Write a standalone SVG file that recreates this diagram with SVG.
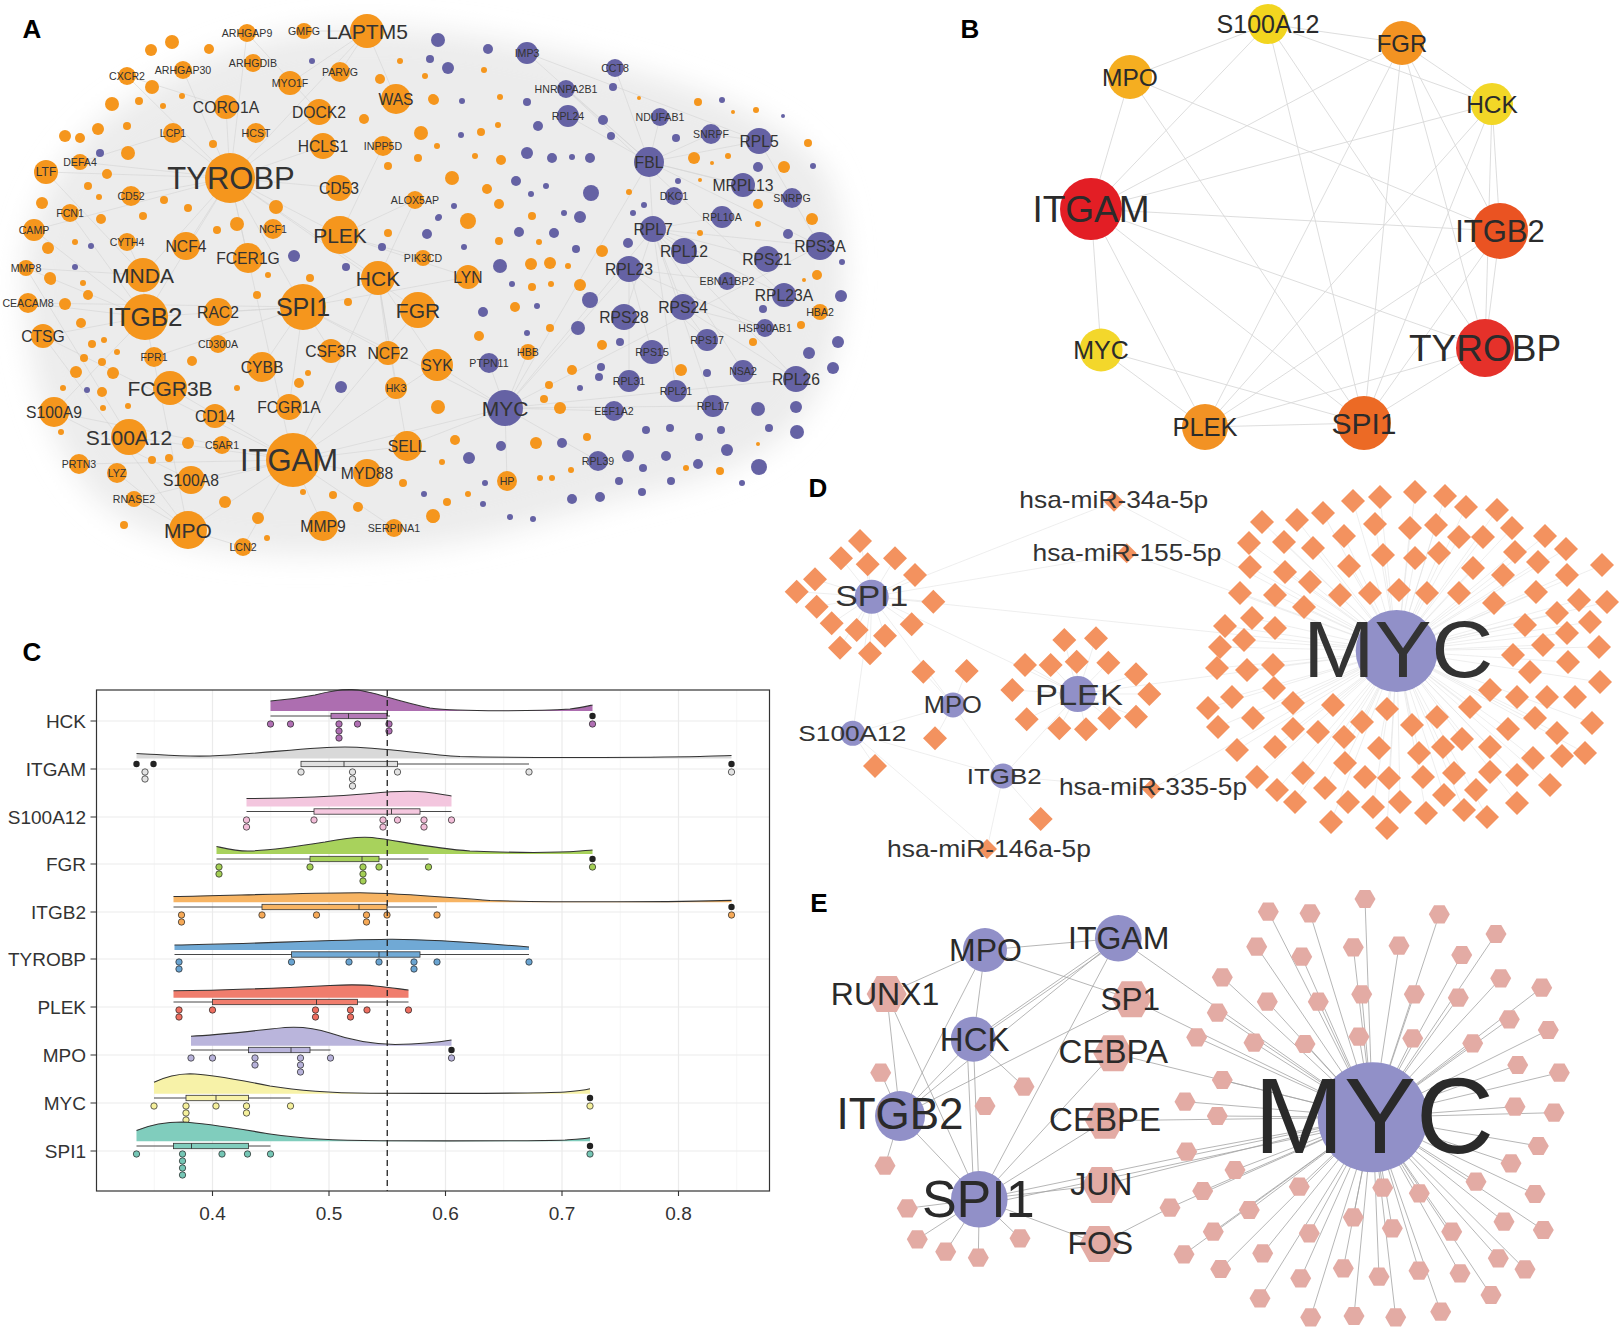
<svg xmlns="http://www.w3.org/2000/svg" xmlns:xlink="http://www.w3.org/1999/xlink" width="1624" height="1332" viewBox="0 0 1624 1332">
<style>
text{font-family:"Liberation Sans",Arial,sans-serif}
.pl{font-size:26px;font-weight:bold;fill:#000;text-anchor:middle}
.ta{fill:#333;text-anchor:middle;dominant-baseline:central}
.s{font-size:10.6px}.m{font-size:15.7px}.l{font-size:21px}
.o{fill:#f5961d}.p{fill:#6562a4}
.tb{fill:#2b2b2b;text-anchor:middle;dominant-baseline:central}
.td{fill:#333;text-anchor:middle}
.tds{fill:#333;text-anchor:start;font-size:24px}
.te{fill:#2a2a2a;text-anchor:middle}
.aed{stroke:#d3d3d3;stroke-width:0.6;fill:none}
.bed{stroke:#d9d9d9;stroke-width:0.9;fill:none}
.ded{stroke:#e2e2e2;stroke-width:0.6;fill:none}
.eed{stroke:#a3a3a3;stroke-width:0.8;fill:none}
.grid{stroke:#ebebeb;stroke-width:1.2}
.gmin{stroke:#f4f4f4;stroke-width:0.8}
.top{fill:none;stroke:#333;stroke-width:1.1}
.bx{stroke:#333;stroke-width:0.8}
.wk{stroke:#333;stroke-width:0.9}
.pt{stroke:#222;stroke-width:0.7}
.ol{fill:#222}
.ytl{font-size:19px;fill:#333;text-anchor:end}
.xtl{font-size:19px;fill:#333;text-anchor:middle}
.nd{fill:#9190c8}
</style>
<defs>
<filter id="soft" x="-10%" y="-10%" width="120%" height="120%"><feGaussianBlur stdDeviation="14"/></filter>
<path id="dm" d="M0-12L12 0L0 12L-12 0Z" fill="#f3925f"/>
<path id="dms" d="M0-10L10 0L0 10L-10 0Z" fill="#f3925f"/>
<path id="hx" d="M10.5 0L5.25 9.1L-5.25 9.1L-10.5 0L-5.25-9.1L5.25-9.1Z" fill="#e3aba4"/>
<path id="hxL" d="M20 0L10 18L-10 18L-20 0L-10-18L10-18Z" fill="#e3aba4"/>
</defs>
<rect width="1624" height="1332" fill="#fff"/>

<!-- ================= PANEL A ================= -->
<g id="panelA">
<path filter="url(#soft)" d="M25 300C15 220 65 140 130 100C190 60 260 32 340 28C430 24 520 42 600 62C700 86 780 115 825 170C855 230 848 330 822 385C795 445 735 475 640 495C560 515 500 540 400 550C300 558 190 558 125 520C65 485 30 400 25 300Z" fill="#ececec"/>
<g id="a-edges">
<path class="aed" d="M230 178L46 172M230 178L80 162M230 178L127 76M230 178L183 70M230 178L247 33M230 178L367 31M230 178L323 146M230 178L339 188M230 178L143 275M230 178L145 317M230 178L303 307M230 178L293 460M230 178L340 235M230 178L378 278M230 178L418 310M230 178L186 246M230 178L34 230M230 178L248 258M230 178L131 196M230 178L173 133M230 178L226 107M230 178L319 112M293 460L129 437M293 460L188 530M293 460L323 526M293 460L394 528M293 460L407 446M293 460L367 473M293 460L243 547M293 460L191 480M293 460L54 412M293 460L505 408M293 460L415 200M293 460L170 388M293 460L79 464M293 460L43 336M293 460L418 310M293 460L437 365M293 460L134 499M303 307L145 317M303 307L218 312M303 307L262 367M303 307L331 351M303 307L388 353M303 307L289 407M303 307L378 278M303 307L505 408M303 307L468 277M303 307L28 303M303 307L154 357M145 317L26 268M145 317L28 303M145 317L43 336M145 317L54 412M145 317L143 275M145 317L70 213M145 317L188 530M505 408L649 162M505 408L629 269M505 408L598 461M505 408L507 481M505 408L614 411M505 408L489 363M505 408L528 352M505 408L653 229M505 408L437 365M505 408L407 446M505 408L820 246M649 162L566 89M649 162L615 68M649 162L527 53M649 162L711 134M649 162L759 141M649 162L743 185M649 162L653 229M649 162L568 116M649 162L660 117M649 162L792 198M653 229L684 251M653 229L767 259M653 229L820 246M653 229L722 217M653 229L624 317M653 229L683 307M653 229L796 379M653 229L713 406M653 229L676 391M653 229L743 371M653 229L784 295M629 269L652 352M629 269L629 381M629 269L707 340M629 269L765 328M629 269L727 281M367 31L304 31M367 31L396 99M367 31L290 83M367 31L340 72M340 235L383 146M340 235L423 258M340 235L415 200M340 235L468 277M378 278L407 446M378 278L437 365M378 278L388 353M378 278L396 388M143 275L26 268M143 275L127 242M188 530L243 547M188 530L134 499M188 530L117 473M683 307L796 379M683 307L765 328M683 307L707 340M759 141L820 246M759 141L711 134M46 172L143 275M34 230L145 317M26 268L129 437M43 336L188 530M54 412L191 480M80 162L173 133M127 76L226 107M247 33L319 112M505 408L796 379M505 408L713 406M649 162L820 246M527 53L759 141M566 89L784 295"/>
</g>
<g id="a-minor-orange" class="o">
<circle cx="172" cy="42" r="7"/><circle cx="151" cy="50" r="6"/><circle cx="209" cy="49" r="5"/><circle cx="400" cy="61" r="3"/><circle cx="380" cy="79" r="5"/><circle cx="425" cy="76" r="3"/><circle cx="433" cy="99" r="5"/><circle cx="152" cy="87" r="7"/><circle cx="182" cy="96" r="3"/><circle cx="139" cy="101" r="4"/><circle cx="163" cy="106" r="3"/><circle cx="112" cy="104" r="7"/><circle cx="127" cy="126" r="4"/><circle cx="98" cy="129" r="6"/><circle cx="65" cy="136" r="6"/><circle cx="80" cy="138" r="5"/><circle cx="128" cy="153" r="7"/><circle cx="213" cy="144" r="4"/><circle cx="107" cy="174" r="5"/><circle cx="88" cy="186" r="4"/><circle cx="99" cy="197" r="3"/><circle cx="164" cy="200" r="4"/><circle cx="188" cy="208" r="4"/><circle cx="42" cy="203" r="6"/><circle cx="101" cy="219" r="5"/><circle cx="143" cy="216" r="4"/><circle cx="276" cy="207" r="7"/><circle cx="237" cy="224" r="7"/><circle cx="217" cy="230" r="4"/><circle cx="388" cy="166" r="4"/><circle cx="418" cy="158" r="4"/><circle cx="437" cy="146" r="3"/><circle cx="421" cy="133" r="7"/><circle cx="364" cy="119" r="5"/><circle cx="388" cy="233" r="4"/><circle cx="75" cy="242" r="3"/><circle cx="48" cy="248" r="6"/><circle cx="50" cy="278" r="6"/><circle cx="83" cy="283" r="3"/><circle cx="88" cy="295" r="5"/><circle cx="268" cy="275" r="3"/><circle cx="310" cy="278" r="4"/><circle cx="257" cy="295" r="4"/>
<circle cx="51" cy="280" r="5"/><circle cx="65" cy="304" r="6"/><circle cx="81" cy="323" r="5"/><circle cx="92" cy="344" r="4"/><circle cx="104" cy="340" r="3"/><circle cx="117" cy="352" r="3"/><circle cx="84" cy="358" r="4"/><circle cx="102" cy="362" r="4"/><circle cx="113" cy="373" r="6"/><circle cx="76" cy="372" r="6"/><circle cx="102" cy="392" r="5"/><circle cx="63" cy="388" r="3"/><circle cx="128" cy="406" r="3"/><circle cx="103" cy="408" r="3"/><circle cx="61" cy="432" r="3"/><circle cx="192" cy="361" r="5"/><circle cx="348" cy="302" r="4"/><circle cx="237" cy="388" r="3"/><circle cx="308" cy="373" r="3"/><circle cx="299" cy="383" r="5"/><circle cx="188" cy="443" r="6"/><circle cx="152" cy="460" r="4"/><circle cx="169" cy="458" r="4"/><circle cx="124" cy="525" r="4"/><circle cx="225" cy="502" r="6"/><circle cx="258" cy="518" r="6"/><circle cx="267" cy="538" r="3"/><circle cx="303" cy="492" r="3"/><circle cx="333" cy="495" r="4"/><circle cx="358" cy="507" r="5"/><circle cx="403" cy="483" r="4"/><circle cx="433" cy="517" r="6"/>
<circle cx="484" cy="70" r="3"/><circle cx="434" cy="100" r="5"/><circle cx="500" cy="97" r="3"/><circle cx="639" cy="98" r="2"/><circle cx="698" cy="102" r="4"/><circle cx="733" cy="112" r="2"/><circle cx="756" cy="110" r="3"/><circle cx="498" cy="125" r="3"/><circle cx="481" cy="132" r="4"/><circle cx="475" cy="156" r="3"/><circle cx="501" cy="160" r="5"/><circle cx="452" cy="178" r="7"/><circle cx="487" cy="189" r="5"/><circle cx="499" cy="204" r="5"/><circle cx="629" cy="192" r="3"/><circle cx="694" cy="158" r="6"/><circle cx="712" cy="163" r="2"/><circle cx="728" cy="156" r="3"/><circle cx="700" cy="180" r="2"/><circle cx="784" cy="167" r="6"/><circle cx="808" cy="143" r="4"/><circle cx="758" cy="204" r="5"/><circle cx="758" cy="224" r="3"/><circle cx="812" cy="219" r="6"/><circle cx="700" cy="233" r="3"/><circle cx="468" cy="221" r="8"/><circle cx="532" cy="216" r="4"/><circle cx="499" cy="241" r="4"/><circle cx="539" cy="242" r="3"/><circle cx="602" cy="251" r="6"/><circle cx="531" cy="264" r="6"/><circle cx="550" cy="263" r="6"/><circle cx="568" cy="266" r="3"/><circle cx="532" cy="287" r="4"/><circle cx="551" cy="284" r="3"/><circle cx="580" cy="285" r="6"/><circle cx="817" cy="275" r="5"/><circle cx="804" cy="280" r="2"/>
<circle cx="515" cy="307" r="5"/><circle cx="479" cy="336" r="5"/><circle cx="550" cy="328" r="4"/><circle cx="602" cy="345" r="5"/><circle cx="753" cy="342" r="4"/><circle cx="801" cy="325" r="4"/><circle cx="572" cy="370" r="5"/><circle cx="549" cy="385" r="4"/><circle cx="544" cy="399" r="4"/><circle cx="681" cy="370" r="6"/><circle cx="438" cy="407" r="7"/><circle cx="560" cy="408" r="6"/><circle cx="536" cy="443" r="6"/><circle cx="455" cy="440" r="5"/><circle cx="587" cy="437" r="4"/><circle cx="442" cy="462" r="3"/><circle cx="571" cy="470" r="3"/><circle cx="686" cy="468" r="3"/><circle cx="720" cy="471" r="4"/><circle cx="758" cy="444" r="2"/><circle cx="540" cy="478" r="3"/><circle cx="552" cy="478" r="3"/><circle cx="468" cy="494" r="3"/><circle cx="447" cy="502" r="4"/><circle cx="433" cy="516" r="7"/>
</g>
<g id="a-minor-purple" class="p">
<circle cx="312" cy="61" r="3"/><circle cx="430" cy="59" r="4"/><circle cx="100" cy="153" r="4"/><circle cx="91" cy="246" r="3"/><circle cx="75" cy="267" r="3"/><circle cx="294" cy="256" r="6"/><circle cx="346" cy="267" r="4"/><circle cx="382" cy="247" r="4"/><circle cx="427" cy="234" r="5"/><circle cx="438" cy="218" r="3"/><circle cx="87" cy="390" r="3"/><circle cx="424" cy="494" r="3"/><circle cx="341" cy="387" r="6"/>
<circle cx="438" cy="40" r="7"/><circle cx="488" cy="49" r="5"/><circle cx="448" cy="68" r="6"/><circle cx="613" cy="87" r="4"/><circle cx="462" cy="101" r="3"/><circle cx="527" cy="102" r="4"/><circle cx="603" cy="120" r="5"/><circle cx="538" cy="126" r="5"/><circle cx="461" cy="135" r="3"/><circle cx="611" cy="136" r="4"/><circle cx="676" cy="138" r="4"/><circle cx="527" cy="153" r="6"/><circle cx="552" cy="158" r="5"/><circle cx="572" cy="157" r="3"/><circle cx="590" cy="158" r="5"/><circle cx="722" cy="100" r="3"/><circle cx="783" cy="116" r="2"/><circle cx="758" cy="167" r="5"/><circle cx="813" cy="166" r="3"/><circle cx="678" cy="181" r="3"/><circle cx="516" cy="181" r="5"/><circle cx="591" cy="193" r="8"/><circle cx="531" cy="194" r="3"/><circle cx="546" cy="186" r="3"/><circle cx="454" cy="206" r="3"/><circle cx="439" cy="217" r="3"/><circle cx="564" cy="213" r="3"/><circle cx="580" cy="217" r="6"/><circle cx="633" cy="213" r="3"/><circle cx="644" cy="205" r="3"/><circle cx="519" cy="232" r="5"/><circle cx="554" cy="233" r="5"/><circle cx="464" cy="247" r="3"/><circle cx="628" cy="243" r="5"/><circle cx="788" cy="234" r="5"/><circle cx="842" cy="262" r="3"/><circle cx="576" cy="249" r="4"/><circle cx="500" cy="266" r="7"/><circle cx="512" cy="284" r="3"/><circle cx="841" cy="296" r="6"/>
<circle cx="590" cy="300" r="8"/><circle cx="483" cy="312" r="5"/><circle cx="537" cy="306" r="3"/><circle cx="578" cy="328" r="7"/><circle cx="527" cy="333" r="3"/><circle cx="620" cy="342" r="4"/><circle cx="763" cy="309" r="4"/><circle cx="838" cy="342" r="6"/><circle cx="809" cy="353" r="6"/><circle cx="833" cy="368" r="6"/><circle cx="601" cy="367" r="4"/><circle cx="599" cy="377" r="4"/><circle cx="580" cy="388" r="3"/><circle cx="707" cy="373" r="4"/><circle cx="758" cy="409" r="7"/><circle cx="796" cy="407" r="6"/><circle cx="769" cy="428" r="4"/><circle cx="797" cy="432" r="7"/><circle cx="646" cy="430" r="4"/><circle cx="670" cy="428" r="4"/><circle cx="699" cy="437" r="4"/><circle cx="721" cy="430" r="4"/><circle cx="727" cy="450" r="6"/><circle cx="501" cy="446" r="5"/><circle cx="562" cy="443" r="5"/><circle cx="469" cy="458" r="6"/><circle cx="628" cy="456" r="6"/><circle cx="643" cy="468" r="4"/><circle cx="666" cy="456" r="5"/><circle cx="698" cy="464" r="5"/><circle cx="759" cy="467" r="8"/><circle cx="619" cy="481" r="4"/><circle cx="671" cy="481" r="4"/><circle cx="742" cy="483" r="3"/><circle cx="572" cy="499" r="5"/><circle cx="600" cy="497" r="5"/><circle cx="642" cy="492" r="4"/><circle cx="485" cy="483" r="3"/><circle cx="483" cy="504" r="3"/><circle cx="510" cy="517" r="3"/><circle cx="533" cy="519" r="3"/>
</g>
<g id="a-nodes">
<g id="a-ARHGAP9"><circle class="o" cx="247" cy="33" r="9"/><text class="ta s" x="247" y="33">ARHGAP9</text></g>
<g id="a-GMFG"><circle class="o" cx="304" cy="31" r="8"/><text class="ta s" x="304" y="31">GMFG</text></g>
<g id="a-LAPTM5"><circle class="o" cx="367" cy="31" r="17"/><text class="ta l" x="367" y="31">LAPTM5</text></g>
<g id="a-CXCR2"><circle class="o" cx="127" cy="76" r="9"/><text class="ta s" x="127" y="76">CXCR2</text></g>
<g id="a-ARHGAP30"><circle class="o" cx="183" cy="70" r="9"/><text class="ta s" x="183" y="70">ARHGAP30</text></g>
<g id="a-ARHGDIB"><circle class="o" cx="253" cy="63" r="9"/><text class="ta s" x="253" y="63">ARHGDIB</text></g>
<g id="a-MYO1F"><circle class="o" cx="290" cy="83" r="12"/><text class="ta s" x="290" y="83">MYO1F</text></g>
<g id="a-PARVG"><circle class="o" cx="340" cy="72" r="10"/><text class="ta s" x="340" y="72">PARVG</text></g>
<g id="a-WAS"><circle class="o" cx="396" cy="99" r="15"/><text class="ta m" x="396" y="99">WAS</text></g>
<g id="a-CORO1A"><circle class="o" cx="226" cy="107" r="12"/><text class="ta m" x="226" y="107">CORO1A</text></g>
<g id="a-DOCK2"><circle class="o" cx="319" cy="112" r="13"/><text class="ta m" x="319" y="112">DOCK2</text></g>
<g id="a-LCP1"><circle class="o" cx="173" cy="133" r="10"/><text class="ta s" x="173" y="133">LCP1</text></g>
<g id="a-HCST"><circle class="o" cx="256" cy="133" r="10"/><text class="ta s" x="256" y="133">HCST</text></g>
<g id="a-HCLS1"><circle class="o" cx="323" cy="146" r="13"/><text class="ta m" x="323" y="146">HCLS1</text></g>
<g id="a-INPP5D"><circle class="o" cx="383" cy="146" r="10"/><text class="ta s" x="383" y="146">INPP5D</text></g>
<g id="a-TYROBP"><circle class="o" cx="230" cy="178" r="25"/><text class="ta" font-size="31" x="231" y="178">TYROBP</text></g>
<g id="a-CD53"><circle class="o" cx="339" cy="188" r="13"/><text class="ta m" x="339" y="188">CD53</text></g>
<g id="a-DEFA4"><circle class="o" cx="80" cy="162" r="8"/><text class="ta s" x="80" y="162">DEFA4</text></g>
<g id="a-LTF"><circle class="o" cx="46" cy="172" r="12"/><text class="ta" font-size="12" x="46" y="172">LTF</text></g>
<g id="a-CD52"><circle class="o" cx="131" cy="196" r="10"/><text class="ta s" x="131" y="196">CD52</text></g>
<g id="a-FCN1"><circle class="o" cx="70" cy="213" r="9"/><text class="ta s" x="70" y="213">FCN1</text></g>
<g id="a-CAMP"><circle class="o" cx="34" cy="230" r="11"/><text class="ta s" x="34" y="230">CAMP</text></g>
<g id="a-ALOX5AP"><circle class="o" cx="415" cy="200" r="9"/><text class="ta s" x="415" y="200">ALOX5AP</text></g>
<g id="a-PLEK"><circle class="o" cx="340" cy="235" r="19"/><text class="ta l" x="340" y="235">PLEK</text></g>
<g id="a-NCF1"><circle class="o" cx="273" cy="229" r="10"/><text class="ta s" x="273" y="229">NCF1</text></g>
<g id="a-NCF4"><circle class="o" cx="186" cy="246" r="14"/><text class="ta m" x="186" y="246">NCF4</text></g>
<g id="a-CYTH4"><circle class="o" cx="127" cy="242" r="9"/><text class="ta s" x="127" y="242">CYTH4</text></g>
<g id="a-FCER1G"><circle class="o" cx="248" cy="258" r="15"/><text class="ta m" x="248" y="258">FCER1G</text></g>
<g id="a-MNDA"><circle class="o" cx="143" cy="275" r="17"/><text class="ta l" x="143" y="275">MNDA</text></g>
<g id="a-HCK"><circle class="o" cx="378" cy="278" r="17"/><text class="ta l" x="378" y="278">HCK</text></g>
<g id="a-MMP8"><circle class="o" cx="26" cy="268" r="8"/><text class="ta s" x="26" y="268">MMP8</text></g>
<g id="a-PIK3CD"><circle class="o" cx="423" cy="258" r="8"/><text class="ta s" x="423" y="258">PIK3CD</text></g>
<g id="a-CEACAM8"><circle class="o" cx="28" cy="303" r="10"/><text class="ta s" x="28" y="303">CEACAM8</text></g>
<g id="a-ITGB2"><circle class="o" cx="145" cy="317" r="23"/><text class="ta" font-size="26" x="145" y="317">ITGB2</text></g>
<g id="a-RAC2"><circle class="o" cx="218" cy="312" r="14"/><text class="ta m" x="218" y="312">RAC2</text></g>
<g id="a-SPI1"><circle class="o" cx="303" cy="307" r="23"/><text class="ta" font-size="25" x="303" y="307">SPI1</text></g>
<g id="a-FGR"><circle class="o" cx="418" cy="310" r="18"/><text class="ta l" x="418" y="310">FGR</text></g>
<g id="a-CTSG"><circle class="o" cx="43" cy="336" r="12"/><text class="ta m" x="43" y="336">CTSG</text></g>
<g id="a-CD300A"><circle class="o" cx="218" cy="344" r="9"/><text class="ta s" x="218" y="344">CD300A</text></g>
<g id="a-FPR1"><circle class="o" cx="154" cy="357" r="10"/><text class="ta s" x="154" y="357">FPR1</text></g>
<g id="a-CYBB"><circle class="o" cx="262" cy="367" r="15"/><text class="ta m" x="262" y="367">CYBB</text></g>
<g id="a-CSF3R"><circle class="o" cx="331" cy="351" r="12"/><text class="ta m" x="331" y="351">CSF3R</text></g>
<g id="a-NCF2"><circle class="o" cx="388" cy="353" r="12"/><text class="ta m" x="388" y="353">NCF2</text></g>
<g id="a-SYK"><circle class="o" cx="437" cy="365" r="16"/><text class="ta m" x="437" y="365">SYK</text></g>
<g id="a-FCGR3B"><circle class="o" cx="170" cy="388" r="17"/><text class="ta l" x="170" y="388">FCGR3B</text></g>
<g id="a-HK3"><circle class="o" cx="396" cy="388" r="11"/><text class="ta s" x="396" y="388">HK3</text></g>
<g id="a-S100A9"><circle class="o" cx="54" cy="412" r="15"/><text class="ta m" x="54" y="412">S100A9</text></g>
<g id="a-CD14"><circle class="o" cx="215" cy="416" r="12"/><text class="ta m" x="215" y="416">CD14</text></g>
<g id="a-FCGR1A"><circle class="o" cx="289" cy="407" r="13"/><text class="ta m" x="289" y="407">FCGR1A</text></g>
<g id="a-S100A12"><circle class="o" cx="129" cy="437" r="18"/><text class="ta l" x="129" y="437">S100A12</text></g>
<g id="a-C5AR1"><circle class="o" cx="222" cy="445" r="9"/><text class="ta s" x="222" y="445">C5AR1</text></g>
<g id="a-ITGAM"><circle class="o" cx="293" cy="460" r="27"/><text class="ta" font-size="31" x="289" y="460">ITGAM</text></g>
<g id="a-SELL"><circle class="o" cx="407" cy="446" r="15"/><text class="ta m" x="407" y="446">SELL</text></g>
<g id="a-PRTN3"><circle class="o" cx="79" cy="464" r="10"/><text class="ta s" x="79" y="464">PRTN3</text></g>
<g id="a-LYZ"><circle class="o" cx="117" cy="473" r="10"/><text class="ta s" x="117" y="473">LYZ</text></g>
<g id="a-S100A8"><circle class="o" cx="191" cy="480" r="14"/><text class="ta m" x="191" y="480">S100A8</text></g>
<g id="a-MYD88"><circle class="o" cx="367" cy="473" r="14"/><text class="ta m" x="367" y="473">MYD88</text></g>
<g id="a-RNASE2"><circle class="o" cx="134" cy="499" r="8"/><text class="ta s" x="134" y="499">RNASE2</text></g>
<g id="a-MPO"><circle class="o" cx="188" cy="530" r="19"/><text class="ta l" x="188" y="530">MPO</text></g>
<g id="a-MMP9"><circle class="o" cx="323" cy="526" r="15"/><text class="ta m" x="323" y="526">MMP9</text></g>
<g id="a-SERPINA1"><circle class="o" cx="394" cy="528" r="9"/><text class="ta s" x="394" y="528">SERPINA1</text></g>
<g id="a-LCN2"><circle class="o" cx="243" cy="547" r="9"/><text class="ta s" x="243" y="547">LCN2</text></g>
<g id="a-LYN"><circle class="o" cx="468" cy="277" r="12"/><text class="ta m" x="468" y="277">LYN</text></g>
<g id="a-HBA2"><circle class="o" cx="820" cy="312" r="8"/><text class="ta s" x="820" y="312">HBA2</text></g>
<g id="a-HBB"><circle class="o" cx="528" cy="352" r="8"/><text class="ta s" x="528" y="352">HBB</text></g>
<g id="a-HP"><circle class="o" cx="507" cy="481" r="10"/><text class="ta s" x="507" y="481">HP</text></g>
<g id="a-IMP3"><circle class="p" cx="527" cy="53" r="11"/><text class="ta s" x="527" y="53">IMP3</text></g>
<g id="a-CCT8"><circle class="p" cx="615" cy="68" r="9"/><text class="ta s" x="615" y="68">CCT8</text></g>
<g id="a-HNRNPA2B1"><circle class="p" cx="566" cy="89" r="9"/><text class="ta s" x="566" y="89">HNRNPA2B1</text></g>
<g id="a-RPL24"><circle class="p" cx="568" cy="116" r="11"/><text class="ta s" x="568" y="116">RPL24</text></g>
<g id="a-NDUFAB1"><circle class="p" cx="660" cy="117" r="9"/><text class="ta s" x="660" y="117">NDUFAB1</text></g>
<g id="a-SNRPF"><circle class="p" cx="711" cy="134" r="10"/><text class="ta s" x="711" y="134">SNRPF</text></g>
<g id="a-RPL5"><circle class="p" cx="759" cy="141" r="13"/><text class="ta m" x="759" y="141">RPL5</text></g>
<g id="a-FBL"><circle class="p" cx="649" cy="162" r="15"/><text class="ta m" x="649" y="162">FBL</text></g>
<g id="a-MRPL13"><circle class="p" cx="743" cy="185" r="12"/><text class="ta m" x="743" y="185">MRPL13</text></g>
<g id="a-DKC1"><circle class="p" cx="674" cy="196" r="9"/><text class="ta s" x="674" y="196">DKC1</text></g>
<g id="a-SNRPG"><circle class="p" cx="792" cy="198" r="10"/><text class="ta s" x="792" y="198">SNRPG</text></g>
<g id="a-RPL10A"><circle class="p" cx="722" cy="217" r="11"/><text class="ta s" x="722" y="217">RPL10A</text></g>
<g id="a-RPL7"><circle class="p" cx="653" cy="229" r="13"/><text class="ta m" x="653" y="229">RPL7</text></g>
<g id="a-RPL12"><circle class="p" cx="684" cy="251" r="13"/><text class="ta m" x="684" y="251">RPL12</text></g>
<g id="a-RPS3A"><circle class="p" cx="820" cy="246" r="14"/><text class="ta m" x="820" y="246">RPS3A</text></g>
<g id="a-RPS21"><circle class="p" cx="767" cy="259" r="13"/><text class="ta m" x="767" y="259">RPS21</text></g>
<g id="a-RPL23"><circle class="p" cx="629" cy="269" r="13"/><text class="ta m" x="629" y="269">RPL23</text></g>
<g id="a-EBNA1BP2"><circle class="p" cx="727" cy="281" r="9"/><text class="ta s" x="727" y="281">EBNA1BP2</text></g>
<g id="a-RPL23A"><circle class="p" cx="784" cy="295" r="12"/><text class="ta m" x="784" y="295">RPL23A</text></g>
<g id="a-RPS24"><circle class="p" cx="683" cy="307" r="13"/><text class="ta m" x="683" y="307">RPS24</text></g>
<g id="a-RPS28"><circle class="p" cx="624" cy="317" r="13"/><text class="ta m" x="624" y="317">RPS28</text></g>
<g id="a-HSP90AB1"><circle class="p" cx="765" cy="328" r="9"/><text class="ta s" x="765" y="328">HSP90AB1</text></g>
<g id="a-RPS17"><circle class="p" cx="707" cy="340" r="11"/><text class="ta s" x="707" y="340">RPS17</text></g>
<g id="a-RPS15"><circle class="p" cx="652" cy="352" r="12"/><text class="ta s" x="652" y="352">RPS15</text></g>
<g id="a-PTPN11"><circle class="p" cx="489" cy="363" r="10"/><text class="ta s" x="489" y="363">PTPN11</text></g>
<g id="a-RPL31"><circle class="p" cx="629" cy="381" r="11"/><text class="ta s" x="629" y="381">RPL31</text></g>
<g id="a-RPL21"><circle class="p" cx="676" cy="391" r="11"/><text class="ta s" x="676" y="391">RPL21</text></g>
<g id="a-NSA2"><circle class="p" cx="743" cy="371" r="11"/><text class="ta s" x="743" y="371">NSA2</text></g>
<g id="a-RPL26"><circle class="p" cx="796" cy="379" r="13"/><text class="ta m" x="796" y="379">RPL26</text></g>
<g id="a-MYC"><circle class="p" cx="505" cy="408" r="18"/><text class="ta l" x="505" y="408">MYC</text></g>
<g id="a-EEF1A2"><circle class="p" cx="614" cy="411" r="10"/><text class="ta s" x="614" y="411">EEF1A2</text></g>
<g id="a-RPL17"><circle class="p" cx="713" cy="406" r="11"/><text class="ta s" x="713" y="406">RPL17</text></g>
<g id="a-RPL39"><circle class="p" cx="598" cy="461" r="10"/><text class="ta s" x="598" y="461">RPL39</text></g>
</g>
<text class="pl" x="32" y="38">A</text>
</g>

<!-- ================= PANEL B ================= -->
<g id="panelB">
<g id="b-edges">
<path class="bed" d="M1268 24L1130 77M1268 24L1402 43M1268 24L1091 209M1268 24L1364 423M1268 24L1485 348M1268 24L1492 104M1402 43L1091 209M1402 43L1492 104M1402 43L1500 231M1402 43L1485 348M1402 43L1364 423M1402 43L1205 427M1130 77L1091 209M1130 77L1500 231M1130 77L1364 423M1492 104L1091 209M1492 104L1500 231M1492 104L1364 423M1492 104L1205 427M1492 104L1485 348M1091 209L1500 231M1091 209L1101 350M1091 209L1205 427M1091 209L1364 423M1091 209L1485 348M1500 231L1485 348M1500 231L1364 423M1500 231L1205 427M1101 350L1364 423M1101 350L1205 427M1485 348L1364 423M1485 348L1205 427M1205 427L1364 423"/>
</g>
<g id="b-S100A12"><circle cx="1268" cy="24" r="20" fill="#f2d51f"/><text class="tb" font-size="25" x="1268" y="24">S100A12</text></g>
<g id="b-FGR"><circle cx="1402" cy="43" r="22" fill="#f39322"/><text class="tb" font-size="24" x="1402" y="43">FGR</text></g>
<g id="b-MPO"><circle cx="1130" cy="77" r="22" fill="#f5ae20"/><text class="tb" font-size="24.5" x="1130" y="77">MPO</text></g>
<g id="b-HCK"><circle cx="1492" cy="104" r="21" fill="#f2d727"/><text class="tb" font-size="24.5" x="1492" y="104">HCK</text></g>
<g id="b-ITGAM"><circle cx="1091" cy="209" r="31" fill="#e31e25"/><text class="tb" font-size="37" x="1091" y="209">ITGAM</text></g>
<g id="b-ITGB2"><circle cx="1500" cy="231" r="28" fill="#ea5322"/><text class="tb" font-size="31" x="1500" y="231">ITGB2</text></g>
<g id="b-MYC"><circle cx="1101" cy="350" r="21.5" fill="#f3d72b"/><text class="tb" font-size="25" x="1101" y="350">MYC</text></g>
<g id="b-TYROBP"><circle cx="1485" cy="348" r="29" fill="#e5312a"/><text class="tb" font-size="37" x="1485" y="348">TYROBP</text></g>
<g id="b-PLEK"><circle cx="1205" cy="427" r="23" fill="#f29224"/><text class="tb" font-size="25.5" x="1205" y="427">PLEK</text></g>
<g id="b-SPI1"><circle cx="1364" cy="423" r="27" fill="#ec6a25"/><text class="tb" font-size="30" x="1364" y="423">SPI1</text></g>
<text class="pl" x="970" y="38">B</text>
</g>

<!-- ================= PANEL C ================= -->
<g id="panelC">
<text class="pl" x="32" y="661">C</text>
<rect x="96.5" y="690" width="673" height="501" fill="#fff"/>
<g id="c-grid">
<path class="gmin" d="M154.25 690V1191M270.75 690V1191M387.25 690V1191M503.75 690V1191M620.25 690V1191M736.75 690V1191"/>
<path class="grid" d="M212.5 690V1191M329 690V1191M445.5 690V1191M562 690V1191M678.5 690V1191M96.5 721H769.5M96.5 769H769.5M96.5 817H769.5M96.5 864H769.5M96.5 912H769.5M96.5 959H769.5M96.5 1007H769.5M96.5 1055H769.5M96.5 1103H769.5M96.5 1151H769.5"/>
</g>
<g id="c-HCK">
<path fill="#ad6eb0" d="M270.5 711L270.5 701C285 700 300 698 315 695C330 691 340 689 352 689.5C370 690 395 701 430 708C460 712 540 711 570 709C580 708 588 706 592.5 705L592.5 711Z"/>
<path class="top" d="M270.5 701C285 700 300 698 315 695C330 691 340 689 352 689.5C370 690 395 701 430 708C460 712 540 711 570 709C580 708 588 706 592.5 705"/>
<path class="wk" d="M270.5 716H390"/><rect class="bx" x="331" y="713.3" width="56" height="5.4" fill="#b47ab7"/><path class="wk" d="M348.5 713.3V718.7"/>
<g fill="#b06fb3" class="pt"><circle cx="270.5" cy="724" r="3.2"/><circle cx="290.5" cy="724" r="3.2"/><circle cx="339" cy="724" r="3.2"/><circle cx="339" cy="731" r="3.2"/><circle cx="339" cy="738" r="3.2"/><circle cx="357.5" cy="724" r="3.2"/><circle cx="389" cy="724" r="3.2"/><circle cx="389" cy="731" r="3.2"/><circle cx="592.5" cy="724" r="3.2"/></g>
<circle class="ol" cx="592.5" cy="716" r="3.2"/>
</g>
<g id="c-ITGAM">
<path fill="#d9d9d9" d="M136.5 758.5L136.5 753.5C155 754 180 757 210 756C260 754 310 747 345 747C380 747 420 754 460 756.5C520 758 650 757.5 700 756.5C715 756 725 755.5 731.5 755.5L731.5 758.5Z"/>
<path class="top" d="M136.5 753.5C155 754 180 757 210 756C260 754 310 747 345 747C380 747 420 754 460 756.5C520 758 650 757.5 700 756.5C715 756 725 755.5 731.5 755.5"/>
<path class="wk" d="M301 764H529"/><rect class="bx" x="301" y="761.3" width="96.5" height="5.4" fill="#e0e0e0"/><path class="wk" d="M344 761.3V766.7"/>
<g fill="#e3e3e3" class="pt"><circle cx="145" cy="772" r="3.2"/><circle cx="145" cy="779" r="3.2"/><circle cx="301" cy="772" r="3.2"/><circle cx="352.5" cy="772" r="3.2"/><circle cx="352.5" cy="779" r="3.2"/><circle cx="352.5" cy="786" r="3.2"/><circle cx="397.5" cy="772" r="3.2"/><circle cx="529" cy="772" r="3.2"/><circle cx="731.5" cy="772" r="3.2"/></g>
<circle class="ol" cx="136.5" cy="764" r="3.2"/><circle class="ol" cx="153.5" cy="764" r="3.2"/><circle class="ol" cx="731.5" cy="764" r="3.2"/>
</g>
<g id="c-S100A12">
<path fill="#f3c6de" d="M246.5 806.5L246.5 798.5C280 798.5 330 797 370 793.5C395 791 410 790.5 425 792C438 793.5 445 795 451.5 796L451.5 806.5Z"/>
<path class="top" d="M246.5 798.5C280 798.5 330 797 370 793.5C395 791 410 790.5 425 792C438 793.5 445 795 451.5 796"/>
<path class="wk" d="M246.5 811.5H451.5"/><rect class="bx" x="314" y="808.8" width="106" height="5.4" fill="#f5c8df"/><path class="wk" d="M391.5 808.8V814.2"/>
<g fill="#f2bdd8" class="pt"><circle cx="246.5" cy="820" r="3.2"/><circle cx="246.5" cy="827" r="3.2"/><circle cx="314" cy="820" r="3.2"/><circle cx="383" cy="820" r="3.2"/><circle cx="383" cy="827" r="3.2"/><circle cx="397.5" cy="820" r="3.2"/><circle cx="424" cy="820" r="3.2"/><circle cx="424" cy="827" r="3.2"/><circle cx="451.5" cy="820" r="3.2"/></g>
</g>
<g id="c-FGR">
<path fill="#a8d25c" d="M216.5 854L216.5 846.5C228 849 238 851.5 250 851C275 850 300 846 325 842C345 838 360 836.5 372 837.5C395 840 430 848 470 851C520 853 560 852.5 580 851C586 850.5 590 850 592.5 850L592.5 854Z"/>
<path class="top" d="M216.5 846.5C228 849 238 851.5 250 851C275 850 300 846 325 842C345 838 360 836.5 372 837.5C395 840 430 848 470 851C520 853 560 852.5 580 851C586 850.5 590 850 592.5 850"/>
<path class="wk" d="M216.5 859H428.5"/><rect class="bx" x="310" y="856.3" width="69" height="5.4" fill="#a8d25c"/><path class="wk" d="M362 856.3V861.7"/>
<g fill="#a4cf55" class="pt"><circle cx="219" cy="867" r="3.2"/><circle cx="219" cy="874" r="3.2"/><circle cx="310" cy="867" r="3.2"/><circle cx="363" cy="867" r="3.2"/><circle cx="363" cy="874" r="3.2"/><circle cx="363" cy="881" r="3.2"/><circle cx="379" cy="867" r="3.2"/><circle cx="428.5" cy="867" r="3.2"/><circle cx="592.5" cy="867" r="3.2"/></g>
<circle class="ol" cx="592.5" cy="859" r="3.2"/>
</g>
<g id="c-ITGB2">
<path fill="#f7b463" d="M173.5 902.3L173.5 896.5C230 895.5 300 893 360 892.7C400 893 440 897 490 900.5C560 902.5 680 902 731.5 900.4L731.5 902.3Z"/>
<path class="top" d="M173.5 896.5C230 895.5 300 893 360 892.7C400 893 440 897 490 900.5C560 902.5 680 902 731.5 900.4"/>
<path class="wk" d="M173.5 907H437"/><rect class="bx" x="262" y="904.3" width="125" height="5.4" fill="#f7b463"/><path class="wk" d="M359 904.3V909.7"/>
<g fill="#f6a957" class="pt"><circle cx="181.5" cy="915" r="3.2"/><circle cx="181.5" cy="922" r="3.2"/><circle cx="262" cy="915" r="3.2"/><circle cx="316.5" cy="915" r="3.2"/><circle cx="366.5" cy="915" r="3.2"/><circle cx="366.5" cy="922" r="3.2"/><circle cx="387" cy="915" r="3.2"/><circle cx="437" cy="915" r="3.2"/><circle cx="731.5" cy="915" r="3.2"/></g>
<circle class="ol" cx="731.5" cy="907" r="3.2"/>
</g>
<g id="c-TYROBP">
<path fill="#70a9d5" d="M174.5 950L174.5 945C240 944.5 320 940 390 939.2C430 939 470 942 529 947L529 950Z"/>
<path class="top" d="M174.5 945C240 944.5 320 940 390 939.2C430 939 470 942 529 947"/>
<path class="wk" d="M174.5 954.5H529"/><rect class="bx" x="291.5" y="951.8" width="128.5" height="5.4" fill="#70a9d5"/><path class="wk" d="M379 951.8V957.2"/>
<g fill="#6aa4d1" class="pt"><circle cx="179" cy="962" r="3.2"/><circle cx="179" cy="969" r="3.2"/><circle cx="291.5" cy="962" r="3.2"/><circle cx="349" cy="962" r="3.2"/><circle cx="379" cy="962" r="3.2"/><circle cx="414" cy="962" r="3.2"/><circle cx="414" cy="969" r="3.2"/><circle cx="437" cy="962" r="3.2"/><circle cx="529" cy="962" r="3.2"/></g>
</g>
<g id="c-PLEK">
<path fill="#f07d6d" d="M173.5 997.7L173.5 990.8C220 990.5 280 988 330 985.5C350 984.5 362 984.5 375 986C390 987.5 400 989 408.5 990L408.5 997.7Z"/>
<path class="top" d="M173.5 990.8C220 990.5 280 988 330 985.5C350 984.5 362 984.5 375 986C390 987.5 400 989 408.5 990"/>
<path class="wk" d="M173.5 1002H408.5"/><rect class="bx" x="212.5" y="999.3" width="145" height="5.4" fill="#f07d6d"/><path class="wk" d="M316.5 999.3V1004.7"/>
<g fill="#ee6e60" class="pt"><circle cx="179" cy="1010" r="3.2"/><circle cx="179" cy="1017" r="3.2"/><circle cx="212.5" cy="1010" r="3.2"/><circle cx="315.5" cy="1010" r="3.2"/><circle cx="315.5" cy="1017" r="3.2"/><circle cx="350.5" cy="1010" r="3.2"/><circle cx="350.5" cy="1017" r="3.2"/><circle cx="367" cy="1010" r="3.2"/><circle cx="408.5" cy="1010" r="3.2"/></g>
</g>
<g id="c-MPO">
<path fill="#bab5dc" d="M191 1045.8L191 1036.2C220 1035 260 1030 285 1027.5C300 1026.5 315 1028 330 1033C350 1040 370 1044 395 1044.5C420 1044 440 1042 451.5 1040L451.5 1045.8Z"/>
<path class="top" d="M191 1036.2C220 1035 260 1030 285 1027.5C300 1026.5 315 1028 330 1033C350 1040 370 1044 395 1044.5C420 1044 440 1042 451.5 1040"/>
<path class="wk" d="M191 1050H330.5"/><rect class="bx" x="248.5" y="1047.3" width="61.5" height="5.4" fill="#bab5dc"/><path class="wk" d="M291 1047.3V1052.7"/>
<g fill="#b7b2da" class="pt"><circle cx="191" cy="1058" r="3.2"/><circle cx="212.5" cy="1058" r="3.2"/><circle cx="255" cy="1058" r="3.2"/><circle cx="255" cy="1065" r="3.2"/><circle cx="300.5" cy="1058" r="3.2"/><circle cx="300.5" cy="1065" r="3.2"/><circle cx="300.5" cy="1072" r="3.2"/><circle cx="330.5" cy="1058" r="3.2"/><circle cx="451.5" cy="1058" r="3.2"/></g>
<circle class="ol" cx="451.5" cy="1050" r="3.2"/>
</g>
<g id="c-MYC">
<path fill="#f7f2a8" d="M154 1093.8L154 1082.3C165 1077 175 1074 190 1073.8C210 1074 240 1080 270 1086C300 1091 330 1093 370 1093.3C450 1093.5 540 1093.5 565 1092C578 1091 585 1090 590 1088.8L590 1093.8Z"/>
<path class="top" d="M154 1082.3C165 1077 175 1074 190 1073.8C210 1074 240 1080 270 1086C300 1091 330 1093 370 1093.3C450 1093.5 540 1093.5 565 1092C578 1091 585 1090 590 1088.8"/>
<path class="wk" d="M154 1098H290.5"/><rect class="bx" x="186" y="1095.3" width="62.5" height="5.4" fill="#f7f2a8"/><path class="wk" d="M216 1095.3V1100.7"/>
<g fill="#f5f09c" class="pt"><circle cx="154" cy="1106" r="3.2"/><circle cx="186" cy="1106" r="3.2"/><circle cx="186" cy="1113" r="3.2"/><circle cx="186" cy="1120" r="3.2"/><circle cx="216" cy="1106" r="3.2"/><circle cx="246.5" cy="1106" r="3.2"/><circle cx="246.5" cy="1113" r="3.2"/><circle cx="290.5" cy="1106" r="3.2"/><circle cx="590" cy="1106" r="3.2"/></g>
<circle class="ol" cx="590" cy="1098" r="3.2"/>
</g>
<g id="c-SPI1">
<path fill="#80cdbd" d="M136.5 1141.2L136.5 1130.4C150 1125 165 1122 182 1122C205 1123 240 1129 270 1134C300 1138.5 330 1140.5 380 1140.8C460 1141 540 1141 565 1140C578 1139 585 1138.5 590 1137.7L590 1141.2Z"/>
<path class="top" d="M136.5 1130.4C150 1125 165 1122 182 1122C205 1123 240 1129 270 1134C300 1138.5 330 1140.5 380 1140.8C460 1141 540 1141 565 1140C578 1139 585 1138.5 590 1137.7"/>
<path class="wk" d="M136.5 1146H270.5"/><rect class="bx" x="173.5" y="1143.3" width="75" height="5.4" fill="#80cdbd"/><path class="wk" d="M191.5 1143.3V1148.7"/>
<g fill="#75c6b5" class="pt"><circle cx="136.5" cy="1154" r="3.2"/><circle cx="182.5" cy="1154" r="3.2"/><circle cx="182.5" cy="1161" r="3.2"/><circle cx="182.5" cy="1168" r="3.2"/><circle cx="182.5" cy="1175" r="3.2"/><circle cx="222" cy="1154" r="3.2"/><circle cx="247.5" cy="1154" r="3.2"/><circle cx="270.5" cy="1154" r="3.2"/><circle cx="590" cy="1154" r="3.2"/></g>
<circle class="ol" cx="590" cy="1146" r="3.2"/>
</g>
<path d="M387.25 690V1191" stroke="#222" stroke-width="1.3" stroke-dasharray="6 4"/>
<rect x="96.5" y="690" width="673" height="501" fill="none" stroke="#333" stroke-width="1.2"/>
<path d="M90.5 721H96.5M90.5 769H96.5M90.5 817H96.5M90.5 864H96.5M90.5 912H96.5M90.5 959H96.5M90.5 1007H96.5M90.5 1055H96.5M90.5 1103H96.5M90.5 1151H96.5M212.5 1191V1196M329 1191V1196M445.5 1191V1196M562 1191V1196M678.5 1191V1196" stroke="#333" stroke-width="1.1"/>
<g id="c-ylabels">
<text class="ytl" x="86" y="728">HCK</text><text class="ytl" x="86" y="776">ITGAM</text><text class="ytl" x="86" y="824">S100A12</text><text class="ytl" x="86" y="871">FGR</text><text class="ytl" x="86" y="919">ITGB2</text><text class="ytl" x="86" y="966">TYROBP</text><text class="ytl" x="86" y="1014">PLEK</text><text class="ytl" x="86" y="1062">MPO</text><text class="ytl" x="86" y="1110">MYC</text><text class="ytl" x="86" y="1158">SPI1</text>
</g>
<g id="c-xlabels">
<text class="xtl" x="212.5" y="1220">0.4</text><text class="xtl" x="329" y="1220">0.5</text><text class="xtl" x="445.5" y="1220">0.6</text><text class="xtl" x="562" y="1220">0.7</text><text class="xtl" x="678.5" y="1220">0.8</text>
</g>
</g>

<!-- ================= PANEL D ================= -->
<g id="panelD">
<g id="d-edges">
<path class="ded" d="M871.7 596.7L860 541M871.7 596.7L841 558.3M871.7 596.7L867.7 564.3M871.7 596.7L895 558.3M871.7 596.7L915 575M871.7 596.7L815 579.3M871.7 596.7L796.7 591.7M871.7 596.7L933.3 601.7M871.7 596.7L816.7 606.7M871.7 596.7L831.7 623.3M871.7 596.7L856.7 630M871.7 596.7L885 635.7M871.7 596.7L911.7 624.3M871.7 596.7L840 647.7M871.7 596.7L870 653.3M871.7 596.7L953 705M871.7 596.7L852.7 733.3M871.7 596.7L1077.7 694M871.7 596.7L1396.7 651M871.7 596.7L1114 501.7M871.7 596.7L1126.7 553.3M953 705L923.3 671.7M953 705L966.7 671M953 705L935 738.3M953 705L852.7 733.3M953 705L1003 776M852.7 733.3L875 766M852.7 733.3L987 849M852.7 733.3L1003 776M1003 776L1040.7 819M1003 776L987 849M1003 776L1151.7 789M1003 776L1077.7 694M1114 501.7L1396.7 651M1126.7 553.3L1396.7 651M1151.7 789L1396.7 651M1077.7 694L1396.7 651M1077.7 694L1064.3 640M1077.7 694L1096 638.3M1077.7 694L1025 665M1077.7 694L1050.7 665M1077.7 694L1076.7 661.7M1077.7 694L1108.3 662.7M1077.7 694L1136 674.3M1077.7 694L1012.3 690M1077.7 694L1149.3 694M1077.7 694L1026.7 719.3M1077.7 694L1059.3 728.3M1077.7 694L1086 729.3M1077.7 694L1109.3 718.3M1077.7 694L1136 716.7"/>
<path class="ded" stroke="#e8e8e8" d="M1397 651L1415 492M1397 651L1380 497M1397 651L1445 496M1397 651L1353 501M1397 651L1466 507M1397 651L1497 510M1397 651L1323 513M1397 651L1297 520M1397 651L1262 522M1397 651L1375 524M1397 651L1410 528M1397 651L1436 525M1397 651L1512 528M1397 651L1344 536M1397 651L1459 537M1397 651L1483 537M1397 651L1545 536M1397 651L1249 543M1397 651L1284 542M1397 651L1313 548M1397 651L1383 555M1397 651L1415 558M1397 651L1439 553M1397 651L1515 552M1397 651L1566 549M1397 651L1250 567M1397 651L1285 572M1397 651L1349 566M1397 651L1473 568M1397 651L1503 575M1397 651L1538 562M1397 651L1602 565M1397 651L1567 575M1397 651L1310 582M1397 651L1240 593M1397 651L1275 595M1397 651L1304 607M1397 651L1536 592M1397 651L1579 600M1397 651L1607 602M1397 651L1557 613M1397 651L1252 618M1397 651L1225 626M1397 651L1244 640M1397 651L1525 625M1397 651L1590 622M1397 651L1567 633M1397 651L1220 647M1397 651L1543 645M1397 651L1599 647M1397 651L1217 668M1397 651L1247 670M1397 651L1568 662M1397 651L1600 682M1397 651L1232 697M1397 651L1208 708M1397 651L1293 703M1397 651L1333 705M1397 651L1470 707M1397 651L1253 718M1397 651L1362 722M1397 651L1412 725M1397 651L1535 718M1397 651L1592 723M1397 651L1218 727M1397 651L1293 729M1397 651L1344 737M1397 651L1508 729M1397 651L1557 733M1397 651L1462 739M1397 651L1275 747M1397 651L1237 750M1397 651L1379 748M1397 651L1419 753M1397 651L1490 747M1397 651L1585 753M1397 651L1533 758M1397 651L1345 763M1397 651L1303 773M1397 651L1257 777M1397 651L1389 778M1397 651L1454 773M1397 651L1517 775M1397 651L1550 785M1397 651L1277 790M1397 651L1325 788M1397 651L1373 807M1397 651L1400 802M1397 651L1444 795M1397 651L1295 802M1397 651L1426 813M1397 651L1464 810M1397 651L1517 803M1397 651L1487 817M1397 651L1331 822M1397 651L1387 828"/>
</g>
<g id="d-SPI1-targets">
<use href="#dm" x="860" y="541"/><use href="#dm" x="841" y="558.3"/><use href="#dm" x="867.7" y="564.3"/><use href="#dm" x="895" y="558.3"/><use href="#dm" x="915" y="575"/><use href="#dm" x="815" y="579.3"/><use href="#dm" x="796.7" y="591.7"/><use href="#dm" x="933.3" y="601.7"/><use href="#dm" x="816.7" y="606.7"/><use href="#dm" x="831.7" y="623.3"/><use href="#dm" x="856.7" y="630"/><use href="#dm" x="885" y="635.7"/><use href="#dm" x="911.7" y="624.3"/><use href="#dm" x="840" y="647.7"/><use href="#dm" x="870" y="653.3"/>
</g>
<g id="d-small-targets">
<use href="#dm" x="923.3" y="671.7"/><use href="#dm" x="966.7" y="671"/><use href="#dm" x="935" y="738.3"/><use href="#dm" x="875" y="766"/><use href="#dm" x="1040.7" y="819"/>
</g>
<g id="d-PLEK-targets">
<use href="#dm" x="1064.3" y="640"/><use href="#dm" x="1096" y="638.3"/><use href="#dm" x="1025" y="665"/><use href="#dm" x="1050.7" y="665"/><use href="#dm" x="1076.7" y="661.7"/><use href="#dm" x="1108.3" y="662.7"/><use href="#dm" x="1136" y="674.3"/><use href="#dm" x="1012.3" y="690"/><use href="#dm" x="1149.3" y="694"/><use href="#dm" x="1026.7" y="719.3"/><use href="#dm" x="1059.3" y="728.3"/><use href="#dm" x="1086" y="729.3"/><use href="#dm" x="1109.3" y="718.3"/><use href="#dm" x="1136" y="716.7"/>
</g>
<g id="d-MYC-targets">
<use href="#dm" x="1415" y="492"/><use href="#dm" x="1380" y="497"/><use href="#dm" x="1445" y="496"/><use href="#dm" x="1353" y="501"/><use href="#dm" x="1466" y="507"/><use href="#dm" x="1497" y="510"/><use href="#dm" x="1323" y="513"/><use href="#dm" x="1297" y="520"/><use href="#dm" x="1262" y="522"/><use href="#dm" x="1375" y="524"/><use href="#dm" x="1410" y="528"/><use href="#dm" x="1436" y="525"/><use href="#dm" x="1512" y="528"/><use href="#dm" x="1344" y="536"/><use href="#dm" x="1459" y="537"/><use href="#dm" x="1483" y="537"/><use href="#dm" x="1545" y="536"/><use href="#dm" x="1249" y="543"/><use href="#dm" x="1284" y="542"/><use href="#dm" x="1313" y="548"/><use href="#dm" x="1383" y="555"/><use href="#dm" x="1415" y="558"/><use href="#dm" x="1439" y="553"/><use href="#dm" x="1515" y="552"/><use href="#dm" x="1566" y="549"/><use href="#dm" x="1250" y="567"/><use href="#dm" x="1285" y="572"/><use href="#dm" x="1349" y="566"/><use href="#dm" x="1473" y="568"/><use href="#dm" x="1503" y="575"/><use href="#dm" x="1538" y="562"/><use href="#dm" x="1602" y="565"/><use href="#dm" x="1567" y="575"/><use href="#dm" x="1310" y="582"/><use href="#dm" x="1240" y="593"/><use href="#dm" x="1275" y="595"/><use href="#dm" x="1304" y="607"/><use href="#dm" x="1340" y="595"/><use href="#dm" x="1370" y="593"/><use href="#dm" x="1399" y="590"/><use href="#dm" x="1427" y="593"/><use href="#dm" x="1459" y="593"/><use href="#dm" x="1494" y="603"/><use href="#dm" x="1536" y="592"/><use href="#dm" x="1579" y="600"/><use href="#dm" x="1607" y="602"/><use href="#dm" x="1557" y="613"/><use href="#dm" x="1252" y="618"/><use href="#dm" x="1225" y="626"/><use href="#dm" x="1275" y="628"/><use href="#dm" x="1244" y="640"/><use href="#dm" x="1525" y="625"/><use href="#dm" x="1590" y="622"/><use href="#dm" x="1567" y="633"/><use href="#dm" x="1220" y="647"/><use href="#dm" x="1543" y="645"/><use href="#dm" x="1599" y="647"/><use href="#dm" x="1513" y="655"/><use href="#dm" x="1217" y="668"/><use href="#dm" x="1247" y="670"/><use href="#dm" x="1273" y="665"/><use href="#dm" x="1568" y="662"/><use href="#dm" x="1530" y="672"/><use href="#dm" x="1274" y="688"/><use href="#dm" x="1600" y="682"/><use href="#dm" x="1490" y="690"/><use href="#dm" x="1517" y="697"/><use href="#dm" x="1547" y="697"/><use href="#dm" x="1575" y="697"/><use href="#dm" x="1232" y="697"/><use href="#dm" x="1208" y="708"/><use href="#dm" x="1293" y="703"/><use href="#dm" x="1333" y="705"/><use href="#dm" x="1387" y="709"/><use href="#dm" x="1470" y="707"/><use href="#dm" x="1253" y="718"/><use href="#dm" x="1362" y="722"/><use href="#dm" x="1412" y="725"/><use href="#dm" x="1437" y="717"/><use href="#dm" x="1535" y="718"/><use href="#dm" x="1592" y="723"/><use href="#dm" x="1218" y="727"/><use href="#dm" x="1293" y="729"/><use href="#dm" x="1318" y="732"/><use href="#dm" x="1344" y="737"/><use href="#dm" x="1508" y="729"/><use href="#dm" x="1557" y="733"/><use href="#dm" x="1462" y="739"/><use href="#dm" x="1275" y="747"/><use href="#dm" x="1237" y="750"/><use href="#dm" x="1379" y="748"/><use href="#dm" x="1419" y="753"/><use href="#dm" x="1443" y="747"/><use href="#dm" x="1490" y="747"/><use href="#dm" x="1585" y="753"/><use href="#dm" x="1533" y="758"/><use href="#dm" x="1562" y="756"/><use href="#dm" x="1345" y="763"/><use href="#dm" x="1303" y="773"/><use href="#dm" x="1257" y="777"/><use href="#dm" x="1365" y="777"/><use href="#dm" x="1389" y="778"/><use href="#dm" x="1423" y="777"/><use href="#dm" x="1454" y="773"/><use href="#dm" x="1490" y="772"/><use href="#dm" x="1517" y="775"/><use href="#dm" x="1550" y="785"/><use href="#dm" x="1277" y="790"/><use href="#dm" x="1325" y="788"/><use href="#dm" x="1348" y="802"/><use href="#dm" x="1373" y="807"/><use href="#dm" x="1400" y="802"/><use href="#dm" x="1444" y="795"/><use href="#dm" x="1476" y="790"/><use href="#dm" x="1295" y="802"/><use href="#dm" x="1426" y="813"/><use href="#dm" x="1464" y="810"/><use href="#dm" x="1517" y="803"/><use href="#dm" x="1487" y="817"/><use href="#dm" x="1331" y="822"/><use href="#dm" x="1387" y="828"/>
</g>
<g id="d-miR-34a"><use href="#dms" x="1114" y="501.7"/><text class="tds" x="1019.3" y="508" textLength="189" lengthAdjust="spacingAndGlyphs">hsa-miR-34a-5p</text></g>
<g id="d-miR-155"><use href="#dms" x="1126.7" y="553.3"/><text class="tds" x="1032.5" y="560.7" textLength="189" lengthAdjust="spacingAndGlyphs">hsa-miR-155-5p</text></g>
<g id="d-miR-335"><use href="#dms" x="1151.7" y="789"/><text class="tds" x="1059" y="795" textLength="188" lengthAdjust="spacingAndGlyphs">hsa-miR-335-5p</text></g>
<g id="d-miR-146a"><use href="#dms" x="987" y="849"/><text class="tds" x="887" y="856.7" textLength="204" lengthAdjust="spacingAndGlyphs">hsa-miR-146a-5p</text></g>
<g id="d-SPI1"><circle class="nd" cx="871.7" cy="596.7" r="17"/><text class="td" font-size="30" x="871.7" y="605.7" textLength="73" lengthAdjust="spacingAndGlyphs">SPI1</text></g>
<g id="d-PLEK"><circle class="nd" cx="1077.7" cy="694" r="18"/><text class="td" font-size="30" x="1079" y="704.7" textLength="88" lengthAdjust="spacingAndGlyphs">PLEK</text></g>
<g id="d-MPO"><circle class="nd" cx="953" cy="705" r="12.5"/><text class="td" font-size="23" x="952.8" y="713.2" textLength="58" lengthAdjust="spacingAndGlyphs">MPO</text></g>
<g id="d-S100A12"><circle class="nd" cx="852.7" cy="733.3" r="12.5"/><text class="td" font-size="22" x="852.3" y="741" textLength="108" lengthAdjust="spacingAndGlyphs">S100A12</text></g>
<g id="d-ITGB2"><circle class="nd" cx="1003" cy="776" r="12.5"/><text class="td" font-size="22" x="1004.2" y="784" textLength="75" lengthAdjust="spacingAndGlyphs">ITGB2</text></g>
<g id="d-MYC"><circle class="nd" cx="1396.7" cy="651" r="41"/><text class="td" font-size="79" x="1398.3" y="676.7" textLength="190" lengthAdjust="spacingAndGlyphs">MYC</text></g>
<text class="pl" x="818" y="497">D</text>
</g>

<!-- ================= PANEL E ================= -->
<g id="panelE">
<g id="e-edges">
<path class="eed" d="M985 950L1118.3 938.3M985 950L886.7 994M985 950L973.3 1039.3M985 950L900 1116M985 950L1131.7 999.3M1118.3 938.3L973.3 1039.3M1115 944L970 1044M1118.3 938.3L900 1116M1118.3 938.3L979.3 1199.3M1118.3 938.3L1372.7 1117.3M886.7 994L900 1116M886.7 994L979.3 1199.3M973.3 1039.3L900 1116M973.3 1039.3L979.3 1199.3M967 1042L974 1199M973.3 1039.3L1024 1086.7M1131.7 999.3L900 1116M1131.7 999.3L1372.7 1117.3M1113.3 1053.3L979.3 1199.3M1113.3 1053.3L1372.7 1117.3M1105 1120.7L1372.7 1117.3M1105 1120.7L979.3 1199.3M900 1116L979.3 1199.3M900 1116L880.7 1072.7M900 1116L885 1165.7M979.3 1199.3L1101.7 1185M979.3 1199.3L1099.3 1244M979.3 1199.3L1372.7 1117.3M982 1205L1372.7 1122M979.3 1199.3L907.3 1208.3M979.3 1199.3L917.3 1239.3M979.3 1199.3L945.7 1251.7M979.3 1199.3L978.3 1257.7M979.3 1199.3L1020 1238.3M1101.7 1185L1372.7 1117.3M1099.3 1244L1170 1207.7M1170 1207.7L1372.7 1117.3"/>
<path class="eed" d="M1372.7 1117.3L1365 899M1372.7 1117.3L1268.3 911.7M1372.7 1117.3L1310 913.3M1372.7 1117.3L1439.3 914.3M1372.7 1117.3L1496 934M1372.7 1117.3L1256.7 946.7M1372.7 1117.3L1353.3 947.3M1372.7 1117.3L1399 945.7M1372.7 1117.3L1301.7 956.7M1372.7 1117.3L1461.7 955M1372.7 1117.3L1222.3 977.3M1372.7 1117.3L1500.7 978.3M1372.7 1117.3L1541.7 987.7M1372.7 1117.3L1267.3 1001.7M1372.7 1117.3L1318.3 1001.7M1372.7 1117.3L1361.7 994.3M1372.7 1117.3L1414.3 994.3M1372.7 1117.3L1458.3 997.7M1372.7 1117.3L1217.3 1012.7M1372.7 1117.3L1509.3 1019.3M1372.7 1117.3L1548.3 1030M1372.7 1117.3L1196.7 1037.3M1372.7 1117.3L1254 1042.7M1372.7 1117.3L1305 1044M1372.7 1117.3L1359 1036.7M1372.7 1117.3L1412.7 1038.3M1372.7 1117.3L1472.7 1043.3M1372.7 1117.3L1517.7 1065M1372.7 1117.3L1559.3 1072.7M1372.7 1117.3L1222.3 1080M1372.7 1117.3L1185 1101.7M1372.7 1117.3L1217.3 1116M1372.7 1117.3L1515 1106.7M1372.7 1117.3L1554 1112.7M1372.7 1117.3L1186.7 1151.7M1372.7 1117.3L1538.3 1146M1372.7 1117.3L1235 1170M1372.7 1117.3L1511 1163.3M1372.7 1117.3L1202.7 1191M1372.7 1117.3L1299.3 1186.7M1372.7 1117.3L1382.7 1187.7M1372.7 1117.3L1419.3 1193.3M1372.7 1117.3L1476 1181.7M1372.7 1117.3L1535 1194M1372.7 1117.3L1249.3 1210M1372.7 1117.3L1353.3 1217.3M1372.7 1117.3L1392.3 1228.3M1372.7 1117.3L1504 1221.7M1372.7 1117.3L1213.3 1231.7M1372.7 1117.3L1309.3 1233.3M1372.7 1117.3L1451.7 1231.7M1372.7 1117.3L1543.3 1230M1372.7 1117.3L1184 1254.3M1372.7 1117.3L1262.7 1253.3M1372.7 1117.3L1498.3 1258.3M1372.7 1117.3L1220.7 1269M1372.7 1117.3L1343.3 1268.3M1372.7 1117.3L1379 1276.7M1372.7 1117.3L1419 1270.7M1372.7 1117.3L1460 1273.3M1372.7 1117.3L1525 1269.3M1372.7 1117.3L1300.7 1278.3M1372.7 1117.3L1260 1298.3M1372.7 1117.3L1491 1295M1372.7 1117.3L1310.7 1317.3M1372.7 1117.3L1354 1316M1372.7 1117.3L1395.7 1317.3M1372.7 1117.3L1440.7 1311.7"/>
</g>
<g id="e-MYC-targets">
<use href="#hx" x="1365" y="899"/><use href="#hx" x="1268.3" y="911.7"/><use href="#hx" x="1310" y="913.3"/><use href="#hx" x="1439.3" y="914.3"/><use href="#hx" x="1496" y="934"/><use href="#hx" x="1256.7" y="946.7"/><use href="#hx" x="1353.3" y="947.3"/><use href="#hx" x="1399" y="945.7"/><use href="#hx" x="1301.7" y="956.7"/><use href="#hx" x="1461.7" y="955"/><use href="#hx" x="1222.3" y="977.3"/><use href="#hx" x="1500.7" y="978.3"/><use href="#hx" x="1541.7" y="987.7"/><use href="#hx" x="1267.3" y="1001.7"/><use href="#hx" x="1318.3" y="1001.7"/><use href="#hx" x="1361.7" y="994.3"/><use href="#hx" x="1414.3" y="994.3"/><use href="#hx" x="1458.3" y="997.7"/><use href="#hx" x="1217.3" y="1012.7"/><use href="#hx" x="1509.3" y="1019.3"/><use href="#hx" x="1548.3" y="1030"/><use href="#hx" x="1196.7" y="1037.3"/><use href="#hx" x="1254" y="1042.7"/><use href="#hx" x="1305" y="1044"/><use href="#hx" x="1359" y="1036.7"/><use href="#hx" x="1412.7" y="1038.3"/><use href="#hx" x="1472.7" y="1043.3"/><use href="#hx" x="1517.7" y="1065"/><use href="#hx" x="1559.3" y="1072.7"/><use href="#hx" x="1222.3" y="1080"/><use href="#hx" x="1185" y="1101.7"/><use href="#hx" x="1217.3" y="1116"/><use href="#hx" x="1515" y="1106.7"/><use href="#hx" x="1554" y="1112.7"/><use href="#hx" x="1186.7" y="1151.7"/><use href="#hx" x="1538.3" y="1146"/><use href="#hx" x="1235" y="1170"/><use href="#hx" x="1511" y="1163.3"/><use href="#hx" x="1202.7" y="1191"/><use href="#hx" x="1299.3" y="1186.7"/><use href="#hx" x="1382.7" y="1187.7"/><use href="#hx" x="1419.3" y="1193.3"/><use href="#hx" x="1476" y="1181.7"/><use href="#hx" x="1535" y="1194"/><use href="#hx" x="1249.3" y="1210"/><use href="#hx" x="1353.3" y="1217.3"/><use href="#hx" x="1392.3" y="1228.3"/><use href="#hx" x="1504" y="1221.7"/><use href="#hx" x="1213.3" y="1231.7"/><use href="#hx" x="1309.3" y="1233.3"/><use href="#hx" x="1451.7" y="1231.7"/><use href="#hx" x="1543.3" y="1230"/><use href="#hx" x="1184" y="1254.3"/><use href="#hx" x="1262.7" y="1253.3"/><use href="#hx" x="1498.3" y="1258.3"/><use href="#hx" x="1220.7" y="1269"/><use href="#hx" x="1343.3" y="1268.3"/><use href="#hx" x="1379" y="1276.7"/><use href="#hx" x="1419" y="1270.7"/><use href="#hx" x="1460" y="1273.3"/><use href="#hx" x="1525" y="1269.3"/><use href="#hx" x="1300.7" y="1278.3"/><use href="#hx" x="1260" y="1298.3"/><use href="#hx" x="1491" y="1295"/><use href="#hx" x="1310.7" y="1317.3"/><use href="#hx" x="1354" y="1316"/><use href="#hx" x="1395.7" y="1317.3"/><use href="#hx" x="1440.7" y="1311.7"/><use href="#hx" x="1170" y="1207.7"/>
</g>
<g id="e-small-targets">
<use href="#hx" x="880.7" y="1072.7"/><use href="#hx" x="1024" y="1086.7"/><use href="#hx" x="985" y="1106"/><use href="#hx" x="885" y="1165.7"/><use href="#hx" x="907.3" y="1208.3"/><use href="#hx" x="917.3" y="1239.3"/><use href="#hx" x="945.7" y="1251.7"/><use href="#hx" x="978.3" y="1257.7"/><use href="#hx" x="1020" y="1238.3"/>
</g>
<g id="e-RUNX1"><use href="#hxL" x="886.7" y="994"/><text class="te" font-size="32" x="885" y="1005">RUNX1</text></g>
<g id="e-SP1"><use href="#hxL" x="1131.7" y="999.3"/><text class="te" font-size="31.5" x="1130.3" y="1010">SP1</text></g>
<g id="e-CEBPA"><use href="#hxL" x="1113.3" y="1053.3"/><text class="te" font-size="33" x="1113.3" y="1063.3">CEBPA</text></g>
<g id="e-CEBPE"><use href="#hxL" x="1105" y="1120.7"/><text class="te" font-size="33" x="1105" y="1130.7">CEBPE</text></g>
<g id="e-JUN"><use href="#hxL" x="1101.7" y="1185"/><text class="te" font-size="32" x="1101.3" y="1195">JUN</text></g>
<g id="e-FOS"><use href="#hxL" x="1099.3" y="1244"/><text class="te" font-size="32" x="1100.3" y="1254">FOS</text></g>
<g id="e-MPO"><circle class="nd" cx="985" cy="950" r="22"/><text class="te" font-size="32" x="985.5" y="960.7">MPO</text></g>
<g id="e-ITGAM"><circle class="nd" cx="1118.3" cy="938.3" r="23.3"/><text class="te" font-size="32" x="1118.7" y="949.3">ITGAM</text></g>
<g id="e-HCK"><circle class="nd" cx="973.3" cy="1039.3" r="22.5"/><text class="te" font-size="33" x="974.7" y="1050.7">HCK</text></g>
<g id="e-ITGB2"><circle class="nd" cx="900" cy="1116" r="25"/><text class="te" font-size="44" x="900" y="1129.3">ITGB2</text></g>
<g id="e-SPI1"><circle class="nd" cx="979.3" cy="1199.3" r="28.3"/><text class="te" font-size="52" x="978.3" y="1216.7">SPI1</text></g>
<g id="e-MYC"><circle class="nd" cx="1372.7" cy="1117.3" r="55"/><text class="te" font-size="108" x="1374" y="1153.3">MYC</text></g>
<text class="pl" x="819" y="912">E</text>
</g>
</svg>
